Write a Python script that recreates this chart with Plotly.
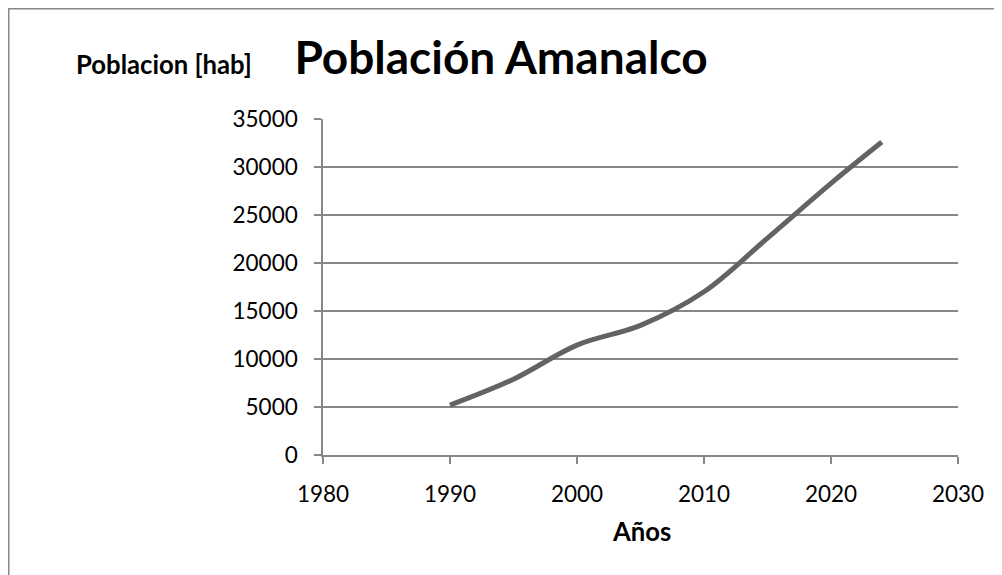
import plotly.graph_objects as go

years = [1990, 1995, 2000, 2005, 2010, 2015, 2020, 2024]
poblacion = [5200, 7900, 11450, 13500, 17000, 22600, 28300, 32600]

x_ticks = [1980, 1990, 2000, 2010, 2020, 2030]
y_ticks = [0, 5000, 10000, 15000, 20000, 25000, 30000, 35000]

title_text = "<b>Población Amanalco</b>"
y_title = "<b>Poblacion [hab]</b>"
x_title = "<b>Años</b>"

# the page body adds an 8 px offset; coordinates below are figure pixels
W, H = 1002, 575
L, R, T, B = 315, 52, 111, 128
pw, ph = W - L - R, H - T - B

def px_x(p):
    return (p - L) / pw

def px_y(p):
    return (H - B - p) / ph

FONT = "Lato, Open Sans, sans-serif"
GRID = "#878787"

fig = go.Figure()
fig.add_trace(go.Scatter(
    x=years, y=poblacion, mode="lines",
    line=dict(color="#636363", width=5, shape="spline", smoothing=1.0),
    showlegend=False, hoverinfo="x+y",
))

fig.update_layout(
    width=W, height=H,
    margin=dict(l=L, r=R, t=T, b=B, pad=0),
    paper_bgcolor="white", plot_bgcolor="white",
    font=dict(family=FONT, size=23, color="black"),
    title=dict(text=title_text, x=(501 - 8) / W, xref="container", xanchor="center",
               y=1 - 50 / H, yref="container", yanchor="middle",
               font=dict(family=FONT, size=46, color="black")),
    xaxis=dict(range=[1980, 2030], tickvals=x_ticks, ticktext=[str(v) for v in x_ticks],
               showgrid=False, zeroline=False, showline=True, linecolor=GRID, linewidth=1.5,
               ticks="outside", ticklen=7, tickcolor=GRID, tickwidth=1.5,
               tickfont=dict(family=FONT, size=22.5, color="black"), ticklabelstandoff=11),
    yaxis=dict(range=[0, 35000], tickvals=y_ticks, ticktext=[str(v) for v in y_ticks],
               showgrid=True, gridcolor=GRID, gridwidth=1.5, zeroline=False,
               showline=True, linecolor=GRID, linewidth=1.5,
               ticks="outside", ticklen=7, tickcolor=GRID, tickwidth=1.5,
               tickfont=dict(family=FONT, size=22.5, color="black"), ticklabelstandoff=12),
    annotations=[
        dict(text=y_title, x=px_x(156), y=px_y(56), xref="paper", yref="paper",
             xanchor="center", yanchor="middle", showarrow=False,
             font=dict(family=FONT, size=25.7, color="black")),
        dict(text=x_title, x=px_x(633), y=px_y(523), xref="paper", yref="paper",
             xanchor="center", yanchor="middle", showarrow=False,
             font=dict(family=FONT, size=25.7, color="black")),
    ],
    shapes=[
        dict(type="rect", xref="paper", yref="paper",
             x0=px_x(0.5), x1=px_x(1015), y0=px_y(600), y1=px_y(0.5),
             line=dict(color="#888888", width=2), fillcolor="rgba(0,0,0,0)", layer="below"),
    ],
)

fig.write_html("out.html")
